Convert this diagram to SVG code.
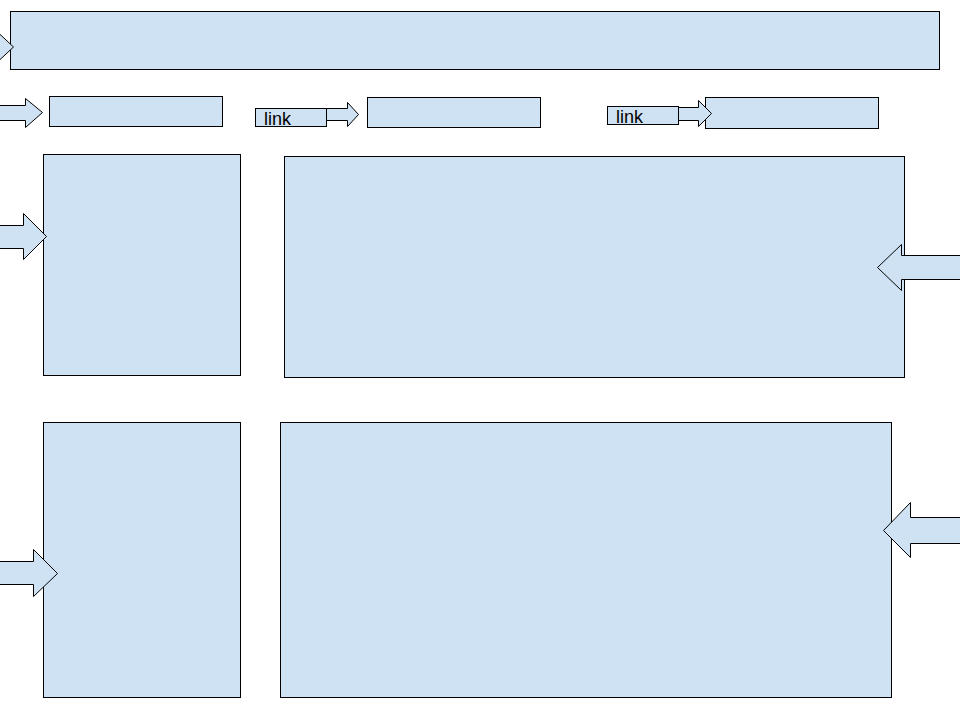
<svg xmlns="http://www.w3.org/2000/svg" width="960" height="720" viewBox="0 0 960 720">
<style>
.n{fill:#cfe2f3;stroke:#000;stroke-width:1}
.a{fill:#cfe2f3;stroke:#000;stroke-width:1;stroke-linejoin:miter}
.t{font-family:"Liberation Sans",Arial,sans-serif;font-size:18px;fill:#000}
</style>
<rect width="960" height="720" fill="#fff"/>
<g id="header"><rect class="n" x="10.5" y="11.5" width="929" height="58"/></g>
<g id="box-r2-1"><rect class="n" x="49.5" y="96.5" width="173" height="30"/></g>
<g id="link1"><rect class="n" x="255.5" y="108.5" width="71" height="18"/><text class="t" x="264" y="125">link</text></g>
<g id="box-r2-2"><rect class="n" x="367.5" y="97.5" width="173" height="30"/></g>
<g id="link2"><rect class="n" x="607.5" y="106.5" width="71" height="18"/><text class="t" x="616" y="123">link</text></g>
<g id="box-r2-3"><rect class="n" x="705.5" y="97.5" width="173" height="31"/></g>
<g id="box-r3-left"><rect class="n" x="43.5" y="154.5" width="197" height="221"/></g>
<g id="box-r3-right"><rect class="n" x="284.5" y="156.5" width="620" height="221"/></g>
<g id="box-r4-left"><rect class="n" x="43.5" y="422.5" width="197" height="275"/></g>
<g id="box-r4-right"><rect class="n" x="280.5" y="422.5" width="611" height="275"/></g>
<g id="connectors">
<polygon class="a" points="-10,40 -2,40 -2,32.5 13.5,47 -2,61.5 -2,54 -10,54"/>
<polygon class="a" points="-2,105.5 25.5,105.5 25.5,98.5 42.5,112.5 25.5,127.5 25.5,120.5 -2,120.5"/>
<polygon class="a" points="326.5,108.5 347.5,108.5 347.5,102.5 358.5,114.5 347.5,126.5 347.5,120.5 326.5,120.5"/>
<polygon class="a" points="678.5,107.5 698.5,107.5 698.5,100.5 711.5,113.5 698.5,126.5 698.5,120.5 678.5,120.5"/>
<polygon class="a" points="-2,225.5 23.5,225.5 23.5,213.5 46.5,236.5 23.5,259.5 23.5,248.5 -2,248.5"/>
<polygon class="a" points="962,255.5 901.5,255.5 901.5,244.5 877.5,267.5 901.5,290.5 901.5,279.5 962,279.5"/>
<polygon class="a" points="-2,561.5 33.5,561.5 33.5,549.5 57.5,573.5 33.5,596.5 33.5,584.5 -2,584.5"/>
<polygon class="a" points="962,517.5 910.5,517.5 910.5,502.5 883.5,530.5 910.5,557.5 910.5,543.5 962,543.5"/>
</g>
</svg>
